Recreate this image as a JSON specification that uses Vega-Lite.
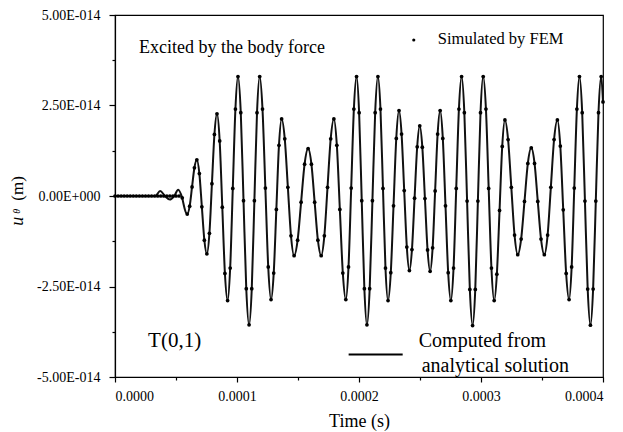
{
  "$schema": "https://vega.github.io/schema/vega-lite/v6.json",
  "width": 488,
  "height": 362,
  "autosize": {"type": "none"},
  "padding": {"left": 115, "top": 15, "right": 20, "bottom": 55},
  "background": "white",
  "config": {
    "font": "Liberation Serif",
    "view": {"stroke": "black", "strokeWidth": 1.2},
    "axis": {
      "grid": false,
      "domainColor": "black",
      "domainWidth": 1.2,
      "tickColor": "black",
      "tickWidth": 1.2,
      "labelColor": "black",
      "titleColor": "black",
      "labelFont": "Liberation Serif",
      "titleFont": "Liberation Serif",
      "labelFontSize": 14,
      "titleFontSize": 18,
      "titleFontWeight": "normal"
    }
  },
  "datasets": {
    "early": [
      {"t": 0e-6, "u": 0, "kind": "analytic"},
      {"t": 33e-6, "u": 0, "kind": "analytic"},
      {"t": 37e-6, "u": 0.14e-14, "kind": "analytic"},
      {"t": 41e-6, "u": 0, "kind": "analytic"},
      {"t": 45e-6, "u": -0.10e-14, "kind": "analytic"},
      {"t": 48.5e-6, "u": 0, "kind": "analytic"},
      {"t": 51.8e-6, "u": 0.17e-14, "kind": "analytic"},
      {"t": 55.1e-6, "u": -0.05e-14, "kind": "analytic"},
      {"t": 0e-6, "u": 0, "kind": "fem"},
      {"t": 2.5e-6, "u": 0, "kind": "fem"},
      {"t": 5e-6, "u": 0, "kind": "fem"},
      {"t": 7.5e-6, "u": 0, "kind": "fem"},
      {"t": 10e-6, "u": 0, "kind": "fem"},
      {"t": 12.5e-6, "u": 0, "kind": "fem"},
      {"t": 15e-6, "u": 0, "kind": "fem"},
      {"t": 17.5e-6, "u": 0, "kind": "fem"},
      {"t": 20e-6, "u": 0, "kind": "fem"},
      {"t": 22.5e-6, "u": 0, "kind": "fem"},
      {"t": 25e-6, "u": 0, "kind": "fem"},
      {"t": 27.5e-6, "u": 0, "kind": "fem"},
      {"t": 30e-6, "u": 0, "kind": "fem"},
      {"t": 32.5e-6, "u": 0, "kind": "fem"},
      {"t": 35e-6, "u": 0, "kind": "fem"},
      {"t": 37.5e-6, "u": 0, "kind": "fem"},
      {"t": 40e-6, "u": 0, "kind": "fem"},
      {"t": 42.5e-6, "u": 0, "kind": "fem"},
      {"t": 45e-6, "u": 0, "kind": "fem"},
      {"t": 47.5e-6, "u": 0, "kind": "fem"},
      {"t": 50e-6, "u": 0, "kind": "fem"},
      {"t": 52.5e-6, "u": 0, "kind": "fem"}
    ],
    "wave": [
      {"t": 55.1e-6, "u": -0.05e-14},
      {"t": 59.2e-6, "u": -0.50e-14},
      {"t": 61.2e-6, "u": -0.28e-14},
      {"t": 63.15e-6, "u": 0.25e-14},
      {"t": 65.1e-6, "u": 0.78e-14},
      {"t": 67.1e-6, "u": 1.00e-14},
      {"t": 69.15e-6, "u": 0.62e-14},
      {"t": 71.2e-6, "u": -0.30e-14},
      {"t": 73.25e-6, "u": -1.22e-14},
      {"t": 75.3e-6, "u": -1.60e-14},
      {"t": 77.4e-6, "u": -1.03e-14},
      {"t": 79.45e-6, "u": 0.34e-14},
      {"t": 81.5e-6, "u": 1.70e-14},
      {"t": 83.6e-6, "u": 2.27e-14},
      {"t": 85.8e-6, "u": 1.52e-14},
      {"t": 87.95e-6, "u": -0.31e-14},
      {"t": 90.1e-6, "u": -2.14e-14},
      {"t": 92.3e-6, "u": -2.89e-14},
      {"t": 94.4e-6, "u": -1.99e-14},
      {"t": 96.55e-6, "u": 0.21e-14},
      {"t": 98.7e-6, "u": 2.40e-14},
      {"t": 100.8e-6, "u": 3.30e-14},
      {"t": 103.1e-6, "u": 2.30e-14},
      {"t": 105.35e-6, "u": -0.13e-14},
      {"t": 107.6e-6, "u": -2.56e-14},
      {"t": 109.9e-6, "u": -3.56e-14},
      {"t": 112.1e-6, "u": -2.56e-14},
      {"t": 114.25e-6, "u": -0.13e-14},
      {"t": 116.4e-6, "u": 2.30e-14},
      {"t": 118.6e-6, "u": 3.30e-14},
      {"t": 120.9e-6, "u": 2.40e-14},
      {"t": 123.25e-6, "u": 0.22e-14},
      {"t": 125.6e-6, "u": -1.96e-14},
      {"t": 127.9e-6, "u": -2.86e-14},
      {"t": 130.1e-6, "u": -2.13e-14},
      {"t": 132.25e-6, "u": -0.37e-14},
      {"t": 134.4e-6, "u": 1.40e-14},
      {"t": 136.6e-6, "u": 2.13e-14},
      {"t": 139.15e-6, "u": 1.58e-14},
      {"t": 141.7e-6, "u": 0.24e-14},
      {"t": 144.25e-6, "u": -1.10e-14},
      {"t": 146.8e-6, "u": -1.65e-14},
      {"t": 149.7e-6, "u": -1.22e-14},
      {"t": 152.55e-6, "u": -0.17e-14},
      {"t": 155.4e-6, "u": 0.88e-14},
      {"t": 158.3e-6, "u": 1.31e-14},
      {"t": 161.0e-6, "u": 0.88e-14},
      {"t": 163.65e-6, "u": -0.17e-14},
      {"t": 166.3e-6, "u": -1.22e-14},
      {"t": 169.0e-6, "u": -1.65e-14},
      {"t": 171.6e-6, "u": -1.10e-14},
      {"t": 174.2e-6, "u": 0.24e-14},
      {"t": 176.8e-6, "u": 1.58e-14},
      {"t": 179.4e-6, "u": 2.13e-14},
      {"t": 181.85e-6, "u": 1.40e-14},
      {"t": 184.3e-6, "u": -0.37e-14},
      {"t": 186.75e-6, "u": -2.13e-14},
      {"t": 189.2e-6, "u": -2.86e-14},
      {"t": 191.4e-6, "u": -1.96e-14},
      {"t": 193.6e-6, "u": 0.22e-14},
      {"t": 195.8e-6, "u": 2.40e-14},
      {"t": 198.0e-6, "u": 3.30e-14},
      {"t": 200.1e-6, "u": 2.30e-14},
      {"t": 202.25e-6, "u": -0.13e-14},
      {"t": 204.4e-6, "u": -2.56e-14},
      {"t": 206.5e-6, "u": -3.56e-14},
      {"t": 208.75e-6, "u": -2.56e-14},
      {"t": 211.0e-6, "u": -0.13e-14},
      {"t": 213.25e-6, "u": 2.30e-14},
      {"t": 215.5e-6, "u": 3.30e-14},
      {"t": 217.6e-6, "u": 2.40e-14},
      {"t": 219.65e-6, "u": 0.21e-14},
      {"t": 221.7e-6, "u": -1.99e-14},
      {"t": 223.8e-6, "u": -2.89e-14},
      {"t": 226.05e-6, "u": -2.12e-14},
      {"t": 228.3e-6, "u": -0.27e-14},
      {"t": 230.55e-6, "u": 1.59e-14},
      {"t": 232.8e-6, "u": 2.36e-14},
      {"t": 234.9e-6, "u": 1.71e-14},
      {"t": 237.05e-6, "u": 0.15e-14},
      {"t": 239.2e-6, "u": -1.41e-14},
      {"t": 241.3e-6, "u": -2.06e-14},
      {"t": 243.4e-6, "u": -1.48e-14},
      {"t": 245.55e-6, "u": -0.06e-14},
      {"t": 247.7e-6, "u": 1.36e-14},
      {"t": 249.8e-6, "u": 1.94e-14},
      {"t": 251.9e-6, "u": 1.35e-14},
      {"t": 254.05e-6, "u": -0.07e-14},
      {"t": 256.2e-6, "u": -1.49e-14},
      {"t": 258.3e-6, "u": -2.08e-14},
      {"t": 260.35e-6, "u": -1.43e-14},
      {"t": 262.4e-6, "u": 0.14e-14},
      {"t": 264.45e-6, "u": 1.71e-14},
      {"t": 266.5e-6, "u": 2.36e-14},
      {"t": 268.7e-6, "u": 1.59e-14},
      {"t": 270.9e-6, "u": -0.27e-14},
      {"t": 273.1e-6, "u": -2.12e-14},
      {"t": 275.3e-6, "u": -2.89e-14},
      {"t": 277.5e-6, "u": -1.99e-14},
      {"t": 279.7e-6, "u": 0.21e-14},
      {"t": 281.9e-6, "u": 2.40e-14},
      {"t": 284.1e-6, "u": 3.30e-14},
      {"t": 286.35e-6, "u": 2.30e-14},
      {"t": 288.6e-6, "u": -0.14e-14},
      {"t": 290.85e-6, "u": -2.58e-14},
      {"t": 293.1e-6, "u": -3.58e-14},
      {"t": 295.3e-6, "u": -2.58e-14},
      {"t": 297.45e-6, "u": -0.14e-14},
      {"t": 299.6e-6, "u": 2.30e-14},
      {"t": 301.8e-6, "u": 3.30e-14},
      {"t": 304.05e-6, "u": 2.40e-14},
      {"t": 306.3e-6, "u": 0.21e-14},
      {"t": 308.55e-6, "u": -1.99e-14},
      {"t": 310.8e-6, "u": -2.89e-14},
      {"t": 313.0e-6, "u": -2.16e-14},
      {"t": 315.2e-6, "u": -0.40e-14},
      {"t": 317.4e-6, "u": 1.37e-14},
      {"t": 319.6e-6, "u": 2.10e-14},
      {"t": 322.2e-6, "u": 1.56e-14},
      {"t": 324.85e-6, "u": 0.24e-14},
      {"t": 327.5e-6, "u": -1.08e-14},
      {"t": 330.1e-6, "u": -1.62e-14},
      {"t": 332.9e-6, "u": -1.19e-14},
      {"t": 335.65e-6, "u": -0.15e-14},
      {"t": 338.4e-6, "u": 0.90e-14},
      {"t": 341.2e-6, "u": 1.33e-14},
      {"t": 343.9e-6, "u": 0.90e-14},
      {"t": 346.55e-6, "u": -0.15e-14},
      {"t": 349.2e-6, "u": -1.19e-14},
      {"t": 351.9e-6, "u": -1.62e-14},
      {"t": 354.6e-6, "u": -1.08e-14},
      {"t": 357.25e-6, "u": 0.24e-14},
      {"t": 359.9e-6, "u": 1.56e-14},
      {"t": 362.6e-6, "u": 2.10e-14},
      {"t": 365.0e-6, "u": 1.38e-14},
      {"t": 367.4e-6, "u": -0.38e-14},
      {"t": 369.8e-6, "u": -2.14e-14},
      {"t": 372.2e-6, "u": -2.86e-14},
      {"t": 374.3e-6, "u": -1.96e-14},
      {"t": 376.45e-6, "u": 0.22e-14},
      {"t": 378.6e-6, "u": 2.40e-14},
      {"t": 380.7e-6, "u": 3.30e-14},
      {"t": 382.95e-6, "u": 2.30e-14},
      {"t": 385.2e-6, "u": -0.14e-14},
      {"t": 387.45e-6, "u": -2.57e-14},
      {"t": 389.7e-6, "u": -3.57e-14},
      {"t": 391.9e-6, "u": -2.57e-14},
      {"t": 394.1e-6, "u": -0.14e-14},
      {"t": 396.3e-6, "u": 2.30e-14},
      {"t": 398.5e-6, "u": 3.30e-14},
      {"t": 400.0e-6, "u": 2.60e-14}
    ],
    "notes": [
      {"t": 19.7e-6, "u": 3.96e-14, "label": "Excited by the body force", "fs": 18},
      {"t": 264.6e-6, "u": 4.20e-14, "label": "Simulated by FEM", "fs": 16.5},
      {"t": 27.1e-6, "u": -4.18e-14, "label": "T(0,1)", "fs": 21},
      {"t": 249.0e-6, "u": -4.18e-14, "label": "Computed from", "fs": 20},
      {"t": 251.4e-6, "u": -4.85e-14, "label": "analytical solution", "fs": 20}
    ],
    "ytitleItalic": [
      {"t": -75.6e-6, "u": -0.82e-14, "label": "u", "fs": 18},
      {"t": -78.1e-6, "u": -0.49e-14, "label": "θ", "fs": 10}
    ],
    "ytitlePlain": [
      {"t": -75.6e-6, "u": -0.13e-14, "label": "(m)", "fs": 17}
    ],
    "legendDot": [{"t": 244.9e-6, "u": 4.31e-14}],
    "legendLine": [{"t1": 191.5e-6, "t2": 235.8e-6, "u": -4.38e-14}]
  },
  "resolve": {"axis": {"x": "independent", "y": "independent"}},
  "layer": [
    {
      "data": {"name": "early"},
      "transform": [{"filter": "datum.kind == 'analytic'"}],
      "mark": {"type": "line", "color": "#111111", "strokeWidth": 2, "interpolate": "monotone"},
      "encoding": {
        "x": {
          "field": "t", "type": "quantitative",
          "scale": {"domain": [0, 0.0004], "nice": false, "zero": false},
          "axis": {
            "orient": "bottom",
            "values": [0, 0.0001, 0.0002, 0.0003, 0.0004],
            "format": ".4f",
            "title": "Time (s)",
            "tickSize": 5,
            "labelPadding": 7,
            "titlePadding": 9
          }
        },
        "y": {
          "field": "u", "type": "quantitative",
          "scale": {"domain": [-5e-14, 5e-14], "nice": false, "zero": false},
          "axis": {
            "orient": "left",
            "values": [-5e-14, -2.5e-14, 0, 2.5e-14, 5e-14],
            "labelExpr": "datum.value == 0 ? '0.00E+000' : ((datum.value < 0 ? '-' : '') + format(abs(datum.value) * 1e14, '.2f') + 'E-014')",
            "title": null,
            "tickSize": 6,
            "labelPadding": 9
          }
        }
      }
    },
    {
      "data": {"name": "wave"},
      "mark": {"type": "line", "color": "#111111", "strokeWidth": 2, "interpolate": "monotone"},
      "encoding": {
        "x": {"field": "t", "type": "quantitative", "axis": null},
        "y": {"field": "u", "type": "quantitative", "axis": null}
      }
    },
    {
      "data": {"name": "wave"},
      "mark": {"type": "point", "filled": true, "color": "black", "size": 14, "opacity": 1},
      "encoding": {
        "x": {"field": "t", "type": "quantitative", "axis": null},
        "y": {"field": "u", "type": "quantitative", "axis": null}
      }
    },
    {
      "data": {"name": "early"},
      "transform": [{"filter": "datum.kind == 'fem'"}],
      "mark": {"type": "point", "filled": true, "color": "black", "size": 14, "opacity": 1},
      "encoding": {
        "x": {"field": "t", "type": "quantitative", "axis": null},
        "y": {"field": "u", "type": "quantitative", "axis": null}
      }
    },
    {
      "data": {"name": "notes"},
      "mark": {"type": "text", "align": "left", "baseline": "alphabetic", "font": "Liberation Serif", "color": "black"},
      "encoding": {
        "x": {"field": "t", "type": "quantitative", "axis": null},
        "y": {"field": "u", "type": "quantitative", "axis": null},
        "text": {"field": "label"},
        "size": {"field": "fs", "type": "quantitative", "scale": null, "legend": null}
      }
    },
    {
      "data": {"name": "ytitleItalic"},
      "mark": {"type": "text", "align": "left", "baseline": "alphabetic", "angle": 270, "font": "Liberation Serif", "fontStyle": "italic", "color": "black"},
      "encoding": {
        "x": {"field": "t", "type": "quantitative", "axis": null},
        "y": {"field": "u", "type": "quantitative", "axis": null},
        "text": {"field": "label"},
        "size": {"field": "fs", "type": "quantitative", "scale": null, "legend": null}
      }
    },
    {
      "data": {"name": "ytitlePlain"},
      "mark": {"type": "text", "align": "left", "baseline": "alphabetic", "angle": 270, "font": "Liberation Serif", "color": "black"},
      "encoding": {
        "x": {"field": "t", "type": "quantitative", "axis": null},
        "y": {"field": "u", "type": "quantitative", "axis": null},
        "text": {"field": "label"},
        "size": {"field": "fs", "type": "quantitative", "scale": null, "legend": null}
      }
    },
    {
      "data": {"name": "legendLine"},
      "mark": {"type": "rule", "color": "black", "strokeWidth": 2},
      "encoding": {
        "x": {"field": "t1", "type": "quantitative", "axis": null},
        "x2": {"field": "t2"},
        "y": {"field": "u", "type": "quantitative", "axis": null}
      }
    },
    {
      "data": {"name": "legendDot"},
      "mark": {"type": "point", "filled": true, "color": "black", "size": 10, "opacity": 1},
      "encoding": {
        "x": {
          "field": "t", "type": "quantitative",
          "axis": {
            "orient": "bottom",
            "values": [0.00005, 0.00015, 0.00025, 0.00035],
            "labels": false, "domain": false, "title": null, "tickSize": 3
          }
        },
        "y": {
          "field": "u", "type": "quantitative",
          "axis": {
            "orient": "left",
            "values": [-3.75e-14, -1.25e-14, 1.25e-14, 3.75e-14],
            "labels": false, "domain": false, "title": null, "tickSize": 3
          }
        }
      }
    }
  ]
}
